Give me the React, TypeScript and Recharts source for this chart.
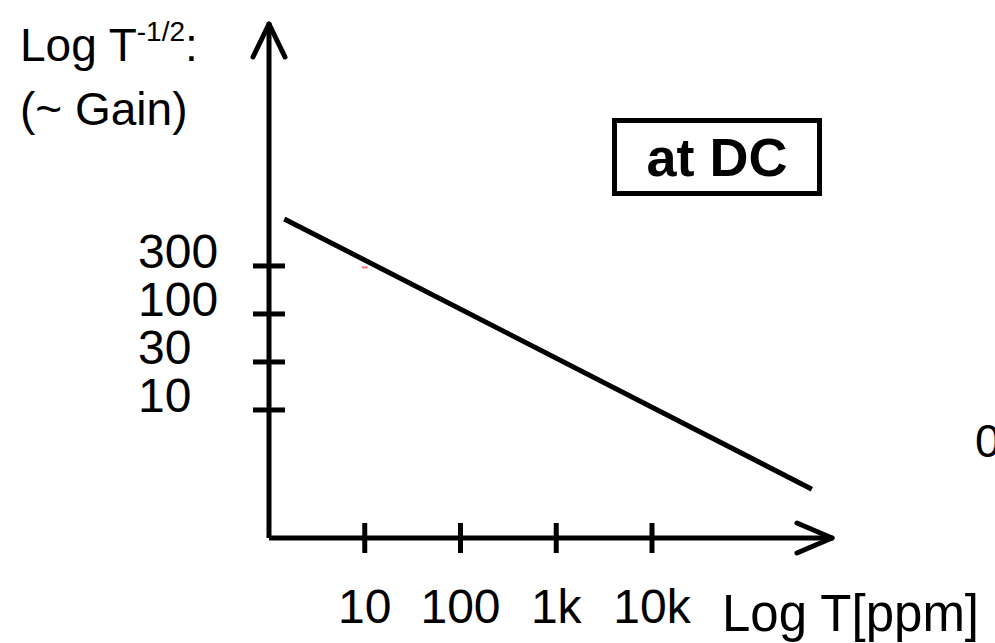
import { LineChart, Line, XAxis, YAxis, ReferenceLine } from "recharts";

// x = log10(T[ppm]), y = tick slot (10, 30, 100, 300 are evenly spaced)
const xTicks = [1, 2, 3, 4];
const xTickLabels = ["10", "100", "1k", "10k"];
const yTicks = [0, 1, 2, 3];
const yTickLabels = ["10", "30", "100", "300"];

const gainLine = [
  { x: 0.16, y: 3.98 },
  { x: 5.67, y: -1.65 },
];

const X_DOMAIN: [number, number] = [0, 5.88];
const Y_DOMAIN: [number, number] = [-2.667, 8.04];

const FONT = "'Liberation Sans', Arial, Helvetica, sans-serif";

function XTick({ x, y, index }: any) {
  return (
    <g>
      <line x1={x} x2={x} y1={y - 15} y2={y + 15} stroke="#000" strokeWidth={5} />
      <text x={x} y={y + 85} textAnchor="middle" fontSize={48} fontFamily={FONT} fill="#000">
        {xTickLabels[index]}
      </text>
    </g>
  );
}

function YTick({ x, y, index }: any) {
  return (
    <g>
      <line x1={x - 16} x2={x + 16} y1={y} y2={y} stroke="#000" strokeWidth={5} />
      <text x={x - 131} y={y + 2} textAnchor="start" fontSize={48} fontFamily={FONT} fill="#000">
        {yTickLabels[index]}
      </text>
    </g>
  );
}

const txt: React.CSSProperties = {
  position: "absolute",
  fontFamily: FONT,
  color: "#000",
  whiteSpace: "nowrap",
  lineHeight: 1,
};

export default function App() {
  const xArrow = 0.366;
  const yArrowDy = 0.3125;
  const yArrowDx = 0.167;
  const yArrowLen = 0.6875;
  return (
    <div style={{ position: "absolute", left: 0, top: 0, width: 995, height: 643, background: "#fff", overflow: "hidden" }}>
      <LineChart width={995} height={643} data={gainLine} margin={{ top: 24, right: 163, bottom: 104, left: 268 }}>
        <XAxis
          type="number"
          dataKey="x"
          domain={X_DOMAIN}
          ticks={xTicks}
          height={1}
          tickSize={0}
          tickMargin={0}
          tickLine={false}
          axisLine={{ stroke: "#000", strokeWidth: 5 }}
          tick={<XTick />}
          interval={0}
          allowDataOverflow
        />
        <YAxis
          type="number"
          dataKey="y"
          domain={Y_DOMAIN}
          ticks={yTicks}
          width={1}
          tickSize={0}
          tickMargin={0}
          tickLine={false}
          axisLine={{ stroke: "#000", strokeWidth: 5 }}
          tick={<YTick />}
          interval={0}
          allowDataOverflow
        />
        <ReferenceLine
          segment={[{ x: X_DOMAIN[1] - xArrow, y: Y_DOMAIN[0] + yArrowDy }, { x: X_DOMAIN[1], y: Y_DOMAIN[0] }]}
          stroke="#000"
          strokeWidth={5}
          strokeLinecap="round"
          ifOverflow="visible"
        />
        <ReferenceLine
          segment={[{ x: X_DOMAIN[1] - xArrow, y: Y_DOMAIN[0] - yArrowDy }, { x: X_DOMAIN[1], y: Y_DOMAIN[0] }]}
          stroke="#000"
          strokeWidth={5}
          strokeLinecap="round"
          ifOverflow="visible"
        />
        <ReferenceLine
          segment={[{ x: X_DOMAIN[0] - yArrowDx, y: Y_DOMAIN[1] - yArrowLen }, { x: X_DOMAIN[0], y: Y_DOMAIN[1] }]}
          stroke="#000"
          strokeWidth={5}
          strokeLinecap="round"
          ifOverflow="visible"
        />
        <ReferenceLine
          segment={[{ x: X_DOMAIN[0] + yArrowDx, y: Y_DOMAIN[1] - yArrowLen }, { x: X_DOMAIN[0], y: Y_DOMAIN[1] }]}
          stroke="#000"
          strokeWidth={5}
          strokeLinecap="round"
          ifOverflow="visible"
        />
        {/* stray red dash under the line near the 10 / 300 crossing */}
        <ReferenceLine
          segment={[{ x: 0.97, y: 2.97 }, { x: 1.03, y: 2.97 }]}
          stroke="#ff7070"
          strokeWidth={2}
          ifOverflow="visible"
        />
        <Line
          type="linear"
          dataKey="y"
          stroke="#000"
          strokeWidth={5}
          dot={false}
          activeDot={false}
          isAnimationActive={false}
        />
      </LineChart>

      <div style={{ ...txt, left: 20, top: 22, fontSize: 46 }}>
        Log T<sup style={{ fontSize: 28, verticalAlign: "top", position: "relative", top: -4 }}>-1/2</sup>:
      </div>
      <div style={{ ...txt, left: 20, top: 86, fontSize: 46 }}>(~ Gain)</div>
      <div
        style={{
          ...txt,
          left: 612,
          top: 118,
          width: 210,
          height: 78,
          boxSizing: "border-box",
          border: "5px solid #000",
          display: "flex",
          alignItems: "center",
          justifyContent: "center",
          fontWeight: "bold",
          fontSize: 54,
        }}
      >
        at DC
      </div>
      <div style={{ ...txt, left: 722, top: 588, fontSize: 51 }}>Log T[ppm]</div>
      <div style={{ ...txt, left: 975, top: 418, fontSize: 46 }}>0</div>
    </div>
  );
}
